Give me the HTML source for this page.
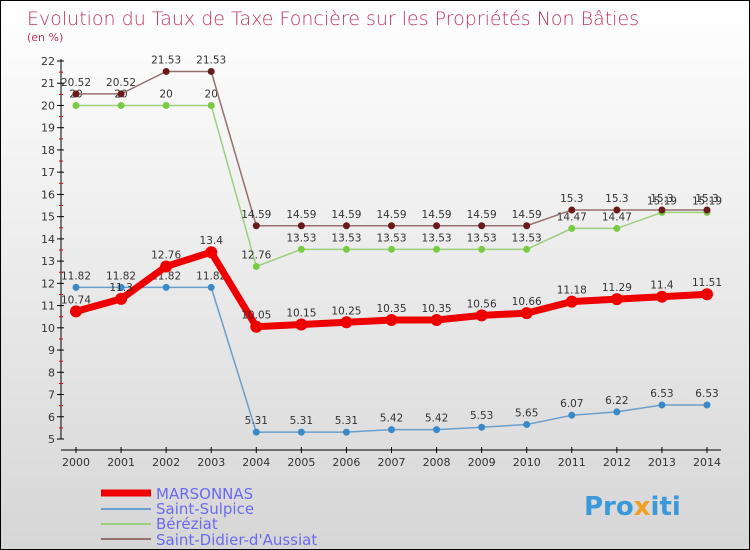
<!DOCTYPE html>
<html><head><meta charset="utf-8"><style>
body{margin:0}
#c{width:748px;height:548px;border:1px solid #000;background:linear-gradient(#fff,#d6d6d6);position:relative;font-family:"DejaVu Sans","Liberation Sans",sans-serif;overflow:hidden}
</style></head><body>
<div id="c">
<svg id="s" width="748" height="548">
<text x="26" y="24" font-size="19" fill="#c0365e" font-family="DejaVu Sans,sans-serif" font-weight="200">Evolution du Taux de Taxe Foncière sur les Propriétés Non Bâties</text>
<text x="26" y="40" font-size="11" fill="#c0365e">(en %)</text>
<line x1="60" y1="58" x2="60" y2="438" stroke="#000"/>
<line x1="60" y1="449" x2="720" y2="449" stroke="#000"/>
<g id="g"></g>
<g>
<line x1="100" y1="492" x2="150" y2="492" stroke="#e00" stroke-width="7"/>
<text x="155" y="498" font-size="15" fill="#6a6aef">MARSONNAS</text>
<line x1="100" y1="508" x2="150" y2="508" stroke="#6a9ecb" stroke-width="2"/>
<text x="155" y="513" font-size="15" fill="#6a6aef">Saint-Sulpice</text>
<line x1="100" y1="523" x2="150" y2="523" stroke="#9ccf7e" stroke-width="2"/>
<text x="155" y="528" font-size="15" fill="#6a6aef">Béréziat</text>
<line x1="100" y1="538" x2="150" y2="538" stroke="#957070" stroke-width="2"/>
<text x="155" y="544" font-size="15" fill="#6a6aef">Saint-Didier-d'Aussiat</text>
</g>
<text x="583" y="514" font-size="26" font-weight="bold" fill="#3a9ad9">Pro<tspan fill="#f0a020">x</tspan>iti</text>
</svg></div>
<script>
const years=[2000,2001,2002,2003,2004,2005,2006,2007,2008,2009,2010,2011,2012,2013,2014];
const yTicks=[5,6,7,8,9,10,11,12,13,14,15,16,17,18,19,20,21,22];
const marsonnas=[10.74,11.3,12.76,13.4,10.05,10.15,10.25,10.35,10.35,10.56,10.66,11.18,11.29,11.4,11.51];
const sulpice=[11.82,11.82,11.82,11.82,5.31,5.31,5.31,5.42,5.42,5.53,5.65,6.07,6.22,6.53,6.53];
const bereziat=[20,20,20,20,12.76,13.53,13.53,13.53,13.53,13.53,13.53,14.47,14.47,15.19,15.19];
const didier=[20.52,20.52,21.53,21.53,14.59,14.59,14.59,14.59,14.59,14.59,14.59,15.3,15.3,15.3,15.3];
const X=i=>75+i*(631/14), Y=v=>438-(v-5)*(378/17);
const g=document.getElementById('g'),NS='http://www.w3.org/2000/svg';
function el(t,a){const e=document.createElementNS(NS,t);for(const k in a)e.setAttribute(k,a[k]);g.appendChild(e);return e;}
yTicks.forEach(v=>{const y=Y(v);
const l=el('line',{x1:56,x2:63,y1:y,y2:y,stroke:'#000'});


if(v<22){const m=el('line',{x1:58,x2:62,y1:y-11.1,y2:y-11.1,stroke:'#e00'});

}
const t=el('text',{x:54,y:y+4,'font-size':11,'text-anchor':'end',fill:'#333'});t.textContent=v;

});
years.forEach((yr,i)=>{const x=X(i);
const l=el('line',{x1:x,x2:x,y1:446,y2:452,stroke:'#000'});


const t=el('text',{x:x,y:465,'font-size':11,'text-anchor':'middle',fill:'#333'});t.textContent=yr;

});
function series(d,col,w,r,dot,name){
const p=el('polyline',{points:d.map((v,i)=>X(i)+','+Y(v)).join(' '),fill:'none',stroke:col,'stroke-width':w});


d.forEach((v,i)=>{const c=el('circle',{cx:X(i),cy:Y(v),r:r,fill:dot});


const t=el('text',{x:X(i),y:Y(v)-8,'font-size':10.5,'text-anchor':'middle',fill:'#333'});t.textContent=v;

});}
series(sulpice,'#6a9ecb',1.5,3.5,'#3a8ac8','saint-sulpice');
series(bereziat,'#9ccf7e',1.5,3.5,'#77cc44','bereziat');
series(didier,'#957070',1.5,3.5,'#6a1a1a','saint-didier');
series(marsonnas,'#ee0000',7,6,'#ee0000','marsonnas');
</script>
</body></html>
